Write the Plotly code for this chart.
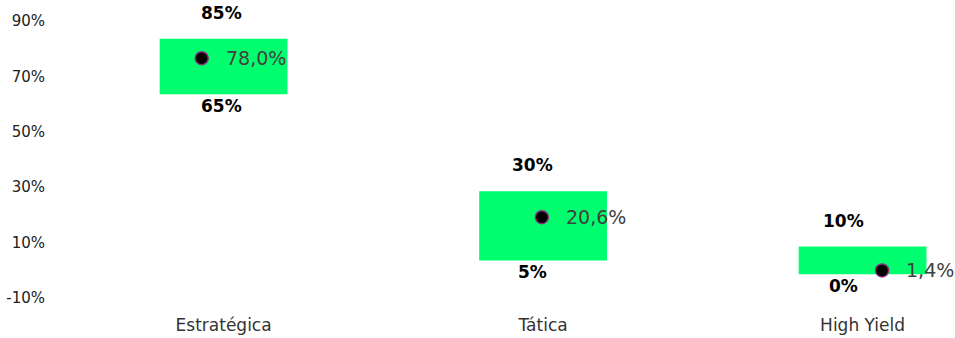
import plotly.graph_objects as go

categories = ["Estratégica", "Tática", "High Yield"]
min_values = [65, 5, 0]
max_values = [85, 30, 10]
current_values = [78.0, 20.6, 1.4]
value_labels = ["78,0%", "20,6%", "1,4%"]
min_labels = ["65%", "5%", "0%"]
max_labels = ["85%", "30%", "10%"]
y_ticks = [-10, 10, 30, 50, 70, 90]
y_tick_labels = ["-10%", "10%", "30%", "50%", "70%", "90%"]

GREEN = "#00FF6E"
FONT = "DejaVu Sans"

fig = go.Figure()

fig.add_trace(go.Bar(
    x=categories,
    y=[mx - mn for mx, mn in zip(max_values, min_values)],
    base=min_values,
    marker=dict(color=GREEN, line=dict(width=0)),
    width=0.4,
    hoverinfo="skip",
    showlegend=False,
    xaxis="x", yaxis="y",
))

fig.add_trace(go.Scatter(
    x=categories,
    y=current_values,
    mode="markers",
    marker=dict(color="black", size=13, line=dict(color="#8a2c7e", width=1.5)),
    showlegend=False,
    cliponaxis=False,
    xaxis="x2", yaxis="y",
))

for c, v, t in zip(categories, current_values, value_labels):
    fig.add_annotation(x=c, y=v, xref="x2", yref="y", text=t, showarrow=False,
                       xanchor="left", xshift=22, yanchor="middle",
                       font=dict(family=FONT, size=19, color="#404040"))

# invisible trace to establish label axis
fig.add_trace(go.Scatter(
    x=categories, y=min_values, mode="markers",
    marker=dict(opacity=0), showlegend=False, hoverinfo="skip",
    xaxis="x3", yaxis="y",
))

for c, mn, mx, ml, xl in zip(categories, min_values, max_values, min_labels, max_labels):
    fig.add_annotation(x=c, y=mx, xref="x3", yref="y", text=xl, showarrow=False,
                       yshift=26, yanchor="middle",
                       font=dict(family=FONT, size=17, color="black", weight="bold"))
    fig.add_annotation(x=c, y=mn, xref="x3", yref="y", text=ml, showarrow=False,
                       yshift=-12, yanchor="middle",
                       font=dict(family=FONT, size=17, color="black", weight="bold"))

fig.update_layout(
    width=955, height=338,
    margin=dict(l=60, r=10, t=25, b=36, autoexpand=False),
    paper_bgcolor="white", plot_bgcolor="white",
    xaxis=dict(type="category", range=[-0.512, 2.258], showgrid=False, zeroline=False,
               showline=False, ticks="", automargin=False,
               tickfont=dict(family=FONT, size=17, color="#333333"),
               ticklabelstandoff=11),
    xaxis2=dict(type="category", overlaying="x", range=[-0.4165, 2.185], visible=False),
    xaxis3=dict(type="category", overlaying="x", range=[-0.5217, 2.3285], visible=False),
    yaxis=dict(range=[-10, 90], tickvals=y_ticks, ticktext=y_tick_labels, showgrid=False,
               zeroline=False, showline=False, ticks="", automargin=False,
               tickfont=dict(family=FONT, size=15, color="#222222"),
               ticklabelstandoff=14, ticklabelshift=-4),
    bargap=0.6,
)

fig.write_html(
    "out.html",
    config={"displayModeBar": False},
    post_script="document.body.style.margin='0';document.body.style.overflow='hidden';",
)
